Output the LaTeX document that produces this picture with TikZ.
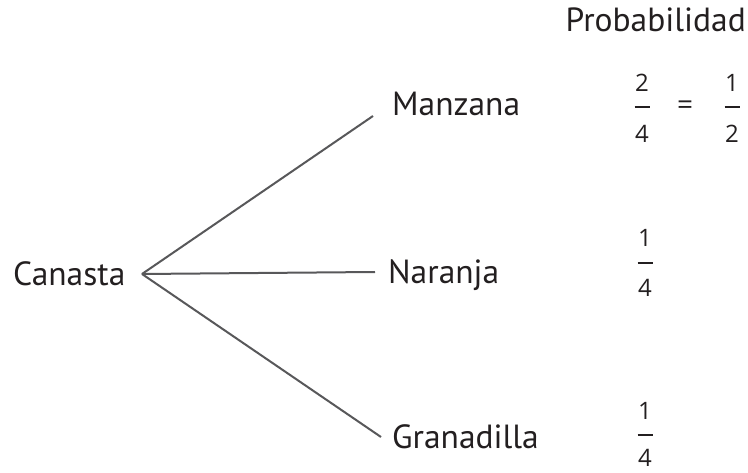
\documentclass[tikz,border=0pt]{standalone}
\usepackage{fontspec}
\setmainfont{PT Sans}
\newfontfamily\digfont{Open Sans}
\definecolor{txt}{HTML}{231F20}
\definecolor{ln}{HTML}{58585A}
\begin{document}
\begin{tikzpicture}[x=1pt,y=-1pt,
  lbl/.style={inner sep=0pt,text=txt,font=\fontsize{33.5}{33.5}\selectfont},
  dig/.style={inner sep=0pt,text depth=0pt,text=txt,font=\digfont\fontsize{24}{24}\selectfont},
  branch/.style={draw=ln,line width=2pt},
  fbar/.style={draw=txt,line width=2.8pt}]
\useasboundingbox (0,0) rectangle (748,473);
\node[lbl,anchor=base west] (canasta) at (13,286) {Canasta};
\coordinate (v) at (142,274);
\node[lbl,anchor=base west] (manzana) at (392,116) {Manzana};
\node[lbl,anchor=base west] (naranja) at (388,284) {Naranja};
\node[lbl,anchor=base west] (granadilla) at (392,449) {Granadilla};
\node[lbl,anchor=base east] (prob) at (746,32) {Probabilidad};
\coordinate (em) at ([xshift=-19pt]manzana.base west);
\coordinate (en) at ([xshift=-13pt,yshift=12pt]naranja.base west);
\coordinate (eg) at ([xshift=-11pt,yshift=12pt]granadilla.base west);
\draw[branch] (v) -- (em);
\draw[branch] (v) -- (en);
\draw[branch] (v) -- (eg);
% fractions
\node[dig,anchor=base] (n1) at (642,92) {2};
\node[dig,anchor=base] (d1) at (642,143) {4};
\draw[fbar] ([xshift=-7.5pt,yshift=-15pt]n1.base) -- ([xshift=7.5pt,yshift=-15pt]n1.base);
\node[dig,font=\digfont\fontsize{28}{28}\selectfont] (eq) at (685,108) {=};
\node[dig,anchor=base] (n2) at (732,92) {1};
\node[dig,anchor=base] (d2) at (732,143) {2};
\draw[fbar] ([xshift=-7.5pt,yshift=-15pt]n2.base) -- ([xshift=7.5pt,yshift=-15pt]n2.base);
\node[dig,anchor=base] (n3) at (645,247) {1};
\node[dig,anchor=base] (d3) at (645,297) {4};
\draw[fbar] ([xshift=-7.5pt,yshift=-16pt]n3.base) -- ([xshift=7.5pt,yshift=-16pt]n3.base);
\node[dig,anchor=base] (n4) at (645,420) {1};
\node[dig,anchor=base] (d4) at (645,466) {4};
\draw[fbar] ([xshift=-7.5pt,yshift=-15pt]n4.base) -- ([xshift=7.5pt,yshift=-15pt]n4.base);
\end{tikzpicture}
\end{document}
